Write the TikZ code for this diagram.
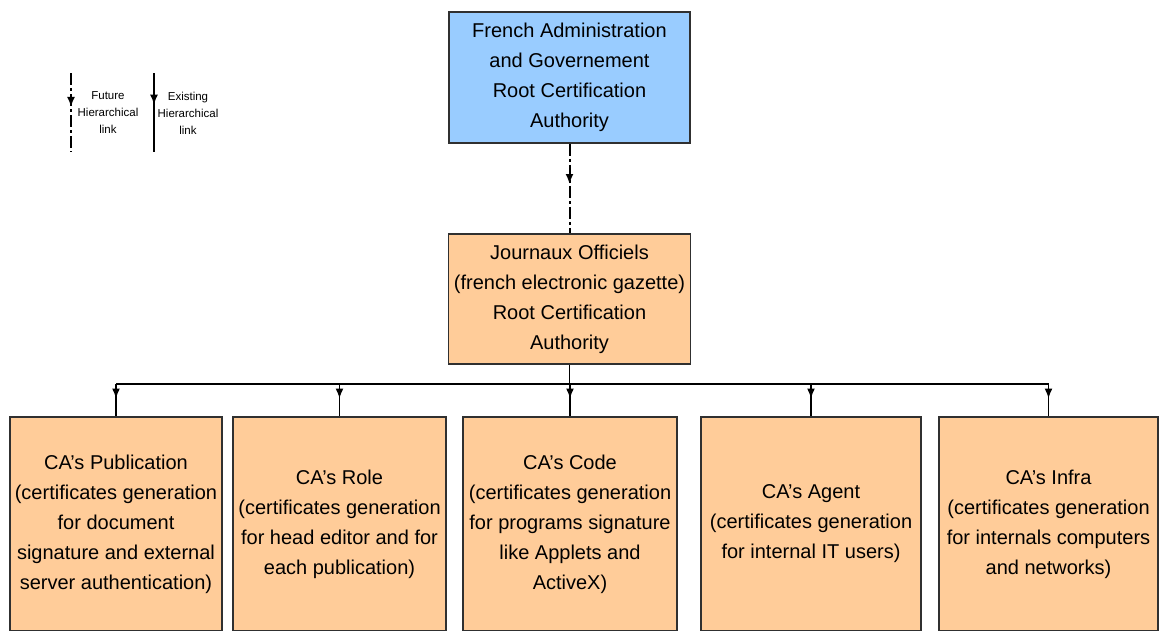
\documentclass[tikz,border=0pt]{standalone}
\usepackage{fontspec}
\setmainfont{Liberation Sans}
\usetikzlibrary{arrows.meta,decorations.markings}
\definecolor{boxblue}{HTML}{99CCFF}
\definecolor{boxorange}{HTML}{FFCC99}
\definecolor{edge}{HTML}{303030}
\tikzset{
  box/.style={draw=edge, line width=1.5pt, inner sep=0pt, align=center,
    font=\fontsize{20}{30}\selectfont},
  bluebox/.style={box, fill=boxblue},
  orangebox/.style={box, fill=boxorange},
  link/.style={draw=black, line width=1.6pt},
  futurelink/.style={link, line width=2pt, dash pattern=on 12pt off 3pt on 3pt off 3pt},
  midarrow/.style={postaction={decorate}, decoration={markings,
    mark=at position #1 with {\arrow{Latex[length=10pt,width=8pt]}}}},
  legendtext/.style={align=center, font=\fontsize{11.5}{17}\selectfont, inner sep=0pt}
}
\begin{document}
\begin{tikzpicture}[x=1pt,y=-1pt]
\useasboundingbox (0,0) rectangle (1160,630);

% legend
\coordinate (fa) at (71,73);
\coordinate (fb) at (71,152);
\coordinate (ea) at (154,73);
\coordinate (eb) at (154,152);
\draw[futurelink, midarrow=0.43] (fa) -- (fb);
\draw[link, midarrow=0.40] (ea) -- (eb);
\node[legendtext] (ftext) at (108,113) {Future\\Hierarchical\\link};
\node[legendtext] (etext) at (188,113) {Existing\\Hierarchical\\link};

% main boxes
\node[bluebox, minimum width=241pt, minimum height=131pt] (root) at (569.5,77.5)
  {French Administration\\and Governement\\Root Certification\\Authority};
\node[orangebox, minimum width=242pt, minimum height=130pt] (jo) at (569.5,299)
  {Journaux Officiels\\(french electronic gazette)\\Root Certification\\Authority};

\draw[futurelink, midarrow=0.45] (root.south) -- (jo.north);

% bottom boxes
\node[orangebox, minimum width=212pt, minimum height=214pt] (b1) at (116,524)
  {CA's Publication\\(certificates generation\\for document\\signature and external\\server authentication)};
\node[orangebox, minimum width=213pt, minimum height=214pt] (b2) at (339.5,524)
  {CA's Role\\(certificates generation\\for head editor and for\\each publication)};
\node[orangebox, minimum width=214pt, minimum height=214pt] (b3) at (570,524)
  {CA's Code\\(certificates generation\\for programs signature\\like Applets and\\ActiveX)};
\node[orangebox, minimum width=220pt, minimum height=214pt] (b4) at (811,524)
  {CA's Agent\\(certificates generation\\for internal IT users)};
\node[orangebox, minimum width=219pt, minimum height=214pt] (b5) at (1048.5,524)
  {CA's Infra\\(certificates generation\\for internals computers\\and networks)};

% bus
\coordinate (bus) at (0,384);
\draw[link] (jo.south) -- (jo.south |- bus);
\draw[link] (b1.north |- bus) -- (b5.north |- bus);
\foreach \b in {b1,b2,b3,b4,b5}{
  \draw[link, midarrow=0.45] (\b.north |- bus) -- (\b.north);
}
\end{tikzpicture}
\end{document}
